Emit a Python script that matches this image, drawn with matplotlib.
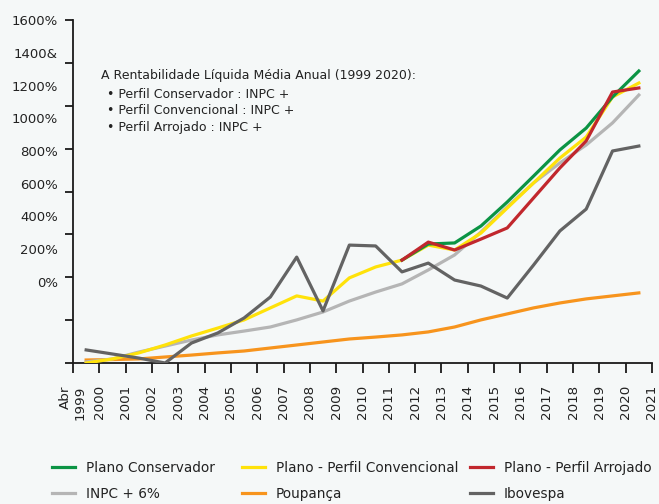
import numpy as np
import matplotlib
matplotlib.use("Agg")
import matplotlib.pyplot as plt
from matplotlib.transforms import blended_transform_factory

# Accumulated return (%) at mid-year, 1999-2020
years = list(range(1999, 2021))
years_plans = list(range(2011, 2021))

conservador = [480, 555, 560, 639, 751, 872, 994, 1096, 1241, 1362]
arrojado = [480, 564, 527, 578, 630, 770, 910, 1036, 1264, 1283]
convencional = [0, 19, 47, 84, 126, 163, 201, 257, 313, 289, 397, 448,
                480, 550, 527, 606, 723, 840, 956, 1054, 1241, 1306]
inpc6 = [5, 19, 51, 79, 107, 131, 149, 168, 201, 238, 289, 331,
         369, 434, 504, 611, 728, 840, 933, 1017, 1120, 1250]
poupanca = [14, 16, 19, 28, 37, 47, 56, 70, 84, 98, 112, 121,
            131, 145, 168, 201, 229, 257, 280, 299, 313, 327]
ibovespa = [61, 42, 23, 0, 93, 140, 210, 308, 494, 243, 550, 546,
            425, 466, 387, 359, 303, 457, 616, 718, 989, 1012]

y_ticks = list(range(0, 1601, 200))
y_labels = ["0%", "200%", "400%", "600%", "800%", "1000%", "1200%", "1400&", "1600%"]
x_ticks = list(range(1999, 2022))
x_labels = ["Abr\n1999"] + [str(y) for y in range(2000, 2022)]

note_title = "A Rentabilidade Líquida Média Anual (1999 2020):"
note_items = ["• Perfil Conservador : INPC +",
              "• Perfil Convencional : INPC +",
              "• Perfil Arrojado : INPC +"]

C_GREEN = "#0b9444"
C_YELLOW = "#ffe20a"
C_RED = "#c1272d"
C_GRAY = "#b5b5b5"
C_ORANGE = "#f7941d"
C_DARK = "#636363"
BG = "#f5f8f8"
TXT = "#222222"

fig = plt.figure(figsize=(6.59, 5.04), dpi=100, facecolor=BG)
ax = fig.add_axes([73 / 659, 1 - 363 / 504, (652 - 73) / 659, (363 - 20) / 504])
ax.set_facecolor(BG)

mid = lambda ys: np.array(ys) + 0.5
lw = 2.3
l_poup, = ax.plot(mid(years), poupanca, color=C_ORANGE, lw=lw, label="Poupança", zorder=2)
l_inpc, = ax.plot(mid(years), inpc6, color=C_GRAY, lw=lw, label="INPC + 6%", zorder=3)
l_conv, = ax.plot(mid(years), convencional, color=C_YELLOW, lw=lw,
                  label="Plano - Perfil Convencional", zorder=4)
l_ibov, = ax.plot(mid(years), ibovespa, color=C_DARK, lw=lw, label="Ibovespa", zorder=5)
l_cons, = ax.plot(mid(years_plans), conservador, color=C_GREEN, lw=lw,
                  label="Plano Conservador", zorder=6)
l_arro, = ax.plot(mid(years_plans), arrojado, color=C_RED, lw=lw,
                  label="Plano - Perfil Arrojado", zorder=7)

ax.set_xlim(1999, 2021)
ax.set_ylim(0, 1600)
for s in ("top", "right"):
    ax.spines[s].set_visible(False)
for s in ("left", "bottom"):
    ax.spines[s].set_linewidth(1.3)
    ax.spines[s].set_color("#1a1a1a")

ax.set_yticks(y_ticks)
ax.set_yticklabels([])
ax.tick_params(axis="y", length=6, width=1.3, color="#1a1a1a")

# value captions beside the vertical axis
trans = blended_transform_factory(fig.transFigure, ax.transData)
for pos, txt in zip(np.linspace(373, 1592, len(y_labels)), y_labels):
    fig.text(58 / 659, pos, txt, transform=trans, ha="right", va="center",
             fontsize=9.5, color=TXT)

ax.set_xticks(x_ticks)
ax.set_xticklabels(x_labels, rotation=90, fontsize=9.7, color=TXT,
                   va="top", ha="center", multialignment="right")
ax.tick_params(axis="x", length=7, width=1.3, color="#1a1a1a", pad=9)

fig.text(101 / 659, 1 - 76 / 504, note_title, fontsize=9,
         color=TXT, va="center", ha="left")
for i, item in enumerate(note_items):
    fig.text(107 / 659, 1 - (94 + 17 * i) / 504, item, fontsize=9,
             color=TXT, va="center", ha="left")

# legend: three columns of two entries
columns = [((l_cons, l_inpc), 52), ((l_conv, l_poup), 242), ((l_arro, l_ibov), 470)]
for hs, x0 in columns:
    leg = fig.legend(handles=list(hs), labels=[h.get_label() for h in hs],
                     loc="center left", bbox_to_anchor=(x0 / 659, 1 - 481 / 504),
                     frameon=False, fontsize=9.8, handlelength=1.7, handletextpad=0.8,
                     labelspacing=0.9, borderpad=0, borderaxespad=0)
    for t in leg.get_texts():
        t.set_color(TXT)

fig.savefig("out.png", dpi=100, facecolor=BG)
